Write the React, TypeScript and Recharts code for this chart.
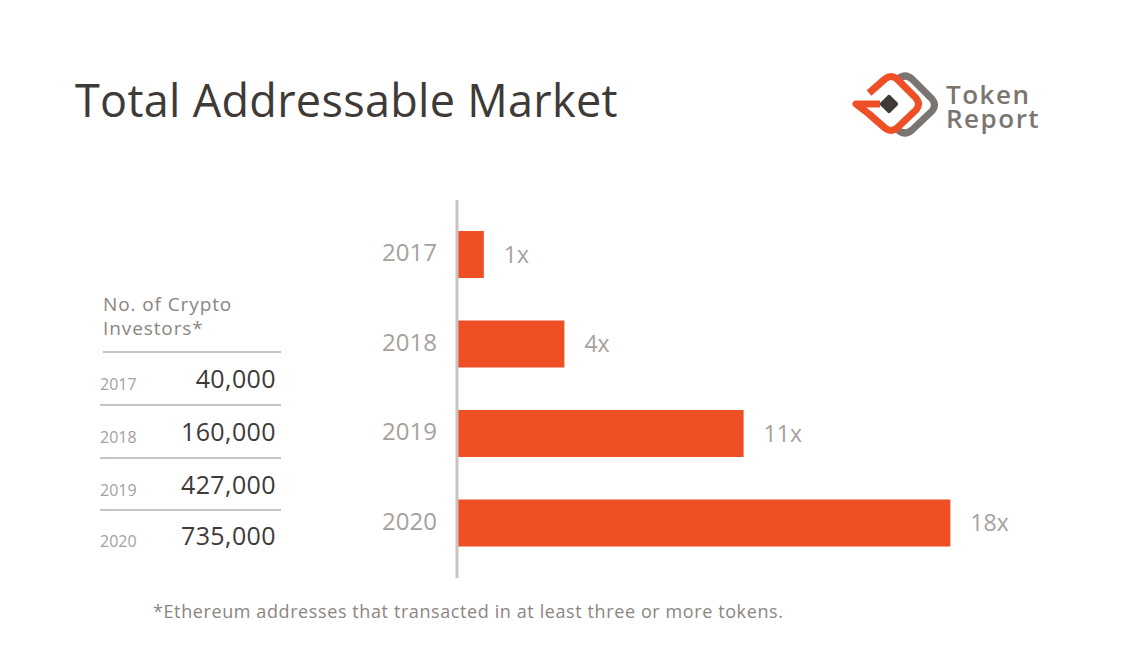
import { BarChart, Bar, XAxis, YAxis, LabelList, Cell } from "recharts";

// values
const years = ["2017", "2018", "2019", "2020"];
const investors = [40000, 160000, 427000, 735000];
const multiples = ["1x", "4x", "11x", "18x"];

const chartData = years.map((year, i) => ({
  year,
  investors: investors[i],
  multiple: multiples[i],
}));

const ORANGE = "#ee4f25";
const LIGHT_GREY = "#a8a09c";
const MID_GREY = "#8c8581";
const DARK = "#3e3a37";
const RULE = "#cbc3bf";
const FONT = "'Open Sans', sans-serif";

// rows of the little table on the left (baselines)
const rowBaselines = [388, 441, 494, 545];
const ruleYs = [405, 458, 510];

const App = () => {
  return (
    <div
      style={{
        position: "absolute",
        left: 0,
        top: 0,
        width: 1125,
        height: 660,
        background: "#fff",
        fontFamily: FONT,
      }}
    >
      <BarChart
        width={1125}
        height={660}
        data={chartData}
        layout="vertical"
        margin={{ top: 200, right: 131, bottom: 82, left: 0 }}
        barSize={47}
      >
        <XAxis type="number" hide domain={[0, 800000]} />
        <YAxis
          type="category"
          dataKey="year"
          width={457}
          padding={{ top: 10, bottom: 10 }}
          tickLine={false}
          tickSize={0}
          tickMargin={20}
          axisLine={{ stroke: RULE, strokeWidth: 3 }}
          tick={{ fill: LIGHT_GREY, fontSize: 24, fontFamily: FONT, dy: -2 }}
        />
        <Bar dataKey="investors" fill={ORANGE} isAnimationActive={false}>
          {chartData.map((d) => (
            <Cell key={d.year} fill={ORANGE} />
          ))}
          <LabelList
            dataKey="multiple"
            position="right"
            offset={20}
            fill={LIGHT_GREY}
            fontSize={23}
            fontFamily={FONT}
          />
        </Bar>
      </BarChart>

      {/* title, logo, table, footnote */}
      <svg
        width={1125}
        height={660}
        style={{ position: "absolute", left: 0, top: 0, pointerEvents: "none" }}
      >
        <text x={75} y={117} fontSize={45} letterSpacing={0.3} fill={DARK} fontFamily={FONT}>
          Total Addressable Market
        </text>

        {/* logo */}
        <path
          d="M 898 79 Q 905 73 912 79 L 932 99 Q 937 105 932 111 L 912 130 Q 905 136 898 130"
          fill="none"
          stroke="#7b7571"
          strokeWidth={7}
          strokeLinejoin="round"
        />
        <path
          d="M 869 93 L 885 79 Q 891 74 897 79 L 916 98 Q 921 104 916 110 L 897 128 Q 891 133 885 128 L 869 114 L 856 104 L 880 104"
          fill="none"
          stroke={ORANGE}
          strokeWidth={7}
          strokeLinejoin="round"
        />
        <rect
          x={882}
          y={97}
          width={14}
          height={14}
          rx={2}
          fill={DARK}
          transform="rotate(45 889 104)"
        />
        <text fontSize={26} letterSpacing={1.5} fontWeight={600} fill="#7b7571" fontFamily={FONT}>
          <tspan x={946} y={104}>Token</tspan>
          <tspan x={946} y={128}>Report</tspan>
        </text>

        {/* table */}
        <text x={103} y={311} fontSize={19} letterSpacing={0.9} fill={MID_GREY} fontFamily={FONT}>
          No. of Crypto
        </text>
        <text x={103} y={335} fontSize={19} letterSpacing={0.9} fill={MID_GREY} fontFamily={FONT}>
          Investors*
        </text>
        <line x1={103} x2={281} y1={352} y2={352} stroke={RULE} strokeWidth={2} />
        {ruleYs.map((y) => (
          <line key={y} x1={100} x2={281} y1={y} y2={y} stroke={RULE} strokeWidth={2} />
        ))}
        {years.map((year, i) => (
          <g key={year}>
            <text x={100} y={rowBaselines[i] + 2} fontSize={16} fill={LIGHT_GREY} fontFamily={FONT}>
              {year}
            </text>
            <text
              x={276}
              y={rowBaselines[i]}
              fontSize={25}
              letterSpacing={0.4}
              fill={DARK}
              textAnchor="end"
              fontFamily={FONT}
            >
              {investors[i].toLocaleString("en-US")}
            </text>
          </g>
        ))}

        <text x={153} y={618} fontSize={18} letterSpacing={0.6} fill={MID_GREY} fontFamily={FONT}>
          *Ethereum addresses that transacted in at least three or more tokens.
        </text>
      </svg>
    </div>
  );
};

export default App;
